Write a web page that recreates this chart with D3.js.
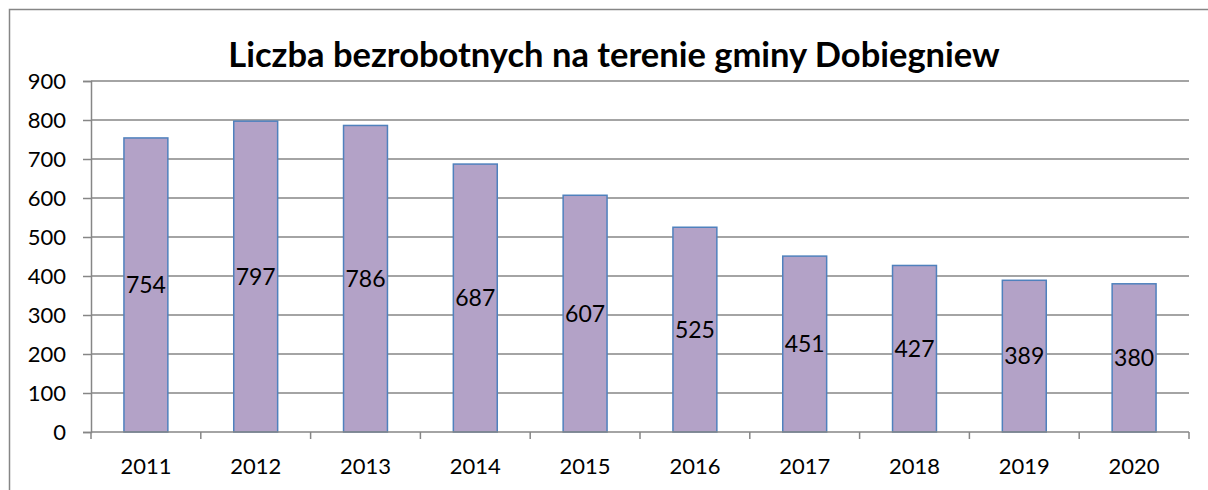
<!DOCTYPE html>
<html>
<head>
    <meta charset="utf-8">
    <title>Liczba bezrobotnych</title>
    <script src="https://cdn.jsdelivr.net/npm/d3@7"></script>
    <style>
        body { margin: 0; background: #fff; }
        text { font-family: Lato, "Open Sans", sans-serif; fill: #000; }
    </style>
</head>
<body>
    <script>
        // dane
        var years = ["2011", "2012", "2013", "2014", "2015", "2016", "2017", "2018", "2019", "2020"];
        var values = [754, 797, 786, 687, 607, 525, 451, 427, 389, 380];
        var yTicks = [0, 100, 200, 300, 400, 500, 600, 700, 800, 900];
        var title = "Liczba bezrobotnych na terenie gminy Dobiegniew";

        var width = 1208, height = 490;
        var margin = {left: 91, right: 19, top: 81, bottom: 58};

        var svg = d3.select("body")
            .append("svg")
            .attr("width", width)
            .attr("height", height);

        // ramka wykresu
        svg.append("path")
            .attr("d", "M9.5," + height + "V9.5H" + width)
            .attr("fill", "none")
            .attr("stroke", "#868686")
            .attr("stroke-width", 1.5);

        var x = d3.scaleBand()
            .domain(years)
            .range([margin.left, width - margin.right])
            .paddingInner(0.6)
            .paddingOuter(0.3);

        var y = d3.scaleLinear()
            .domain([0, 900])
            .range([height - margin.bottom, margin.top]);

        // linie siatki
        svg.append("g")
            .selectAll("line")
            .data(yTicks.slice(1))
            .enter()
            .append("line")
            .attr("x1", margin.left)
            .attr("x2", width - margin.right)
            .attr("y1", function(d){ return y(d); })
            .attr("y2", function(d){ return y(d); })
            .attr("stroke", "#868686")
            .attr("stroke-width", 1.5);

        // oś Y
        var yAxis = svg.append("g")
            .attr("transform", "translate(" + margin.left + ",0)")
            .call(d3.axisLeft(y).tickValues(yTicks).tickSize(8).tickPadding(17));
        yAxis.select(".domain").attr("stroke", "#868686").attr("stroke-width", 1.5);
        yAxis.selectAll(".tick line").attr("stroke", "#868686").attr("stroke-width", 1.5);
        yAxis.selectAll("text").style("font-size", "22px");

        // słupki
        svg.selectAll(".bar")
            .data(values)
            .enter()
            .append("rect")
            .attr("class", "bar")
            .attr("x", function(d, i){ return x(years[i]); })
            .attr("y", function(d){ return y(d); })
            .attr("width", x.bandwidth())
            .attr("height", function(d){ return y(0) - y(d); })
            .attr("fill", "#b3a2c7")
            .attr("stroke", "#4f81bd")
            .attr("stroke-width", 1.5);

        // oś X
        var xAxis = svg.append("g")
            .attr("transform", "translate(0," + y(0) + ")");
        xAxis.append("line")
            .attr("x1", margin.left)
            .attr("x2", width - margin.right)
            .attr("stroke", "#868686")
            .attr("stroke-width", 1.5);
        var edges = d3.range(years.length + 1).map(function(i){
            return margin.left + i * x.step();
        });
        xAxis.selectAll(".xtick")
            .data(edges)
            .enter()
            .append("line")
            .attr("class", "xtick")
            .attr("x1", function(d){ return d; })
            .attr("x2", function(d){ return d; })
            .attr("y1", 0)
            .attr("y2", 7)
            .attr("stroke", "#868686")
            .attr("stroke-width", 1.5);
        xAxis.selectAll(".xlabel")
            .data(years)
            .enter()
            .append("text")
            .attr("class", "xlabel")
            .attr("x", function(d){ return x(d) + x.bandwidth() / 2; })
            .attr("y", 42)
            .attr("text-anchor", "middle")
            .style("font-size", "22px")
            .text(function(d){ return d; });

        // etykiety danych
        svg.selectAll(".label")
            .data(values)
            .enter()
            .append("text")
            .attr("class", "label")
            .attr("x", function(d, i){ return x(years[i]) + x.bandwidth() / 2; })
            .attr("y", function(d){ return (y(d) + y(0)) / 2; })
            .attr("dy", "0.35em")
            .attr("text-anchor", "middle")
            .style("font-size", "23px")
            .text(function(d){ return d; });

        // tytuł
        svg.append("text")
            .attr("x", 614)
            .attr("y", 67)
            .attr("text-anchor", "middle")
            .style("font-size", "34.5px")
            .style("font-weight", "bold")
            .text(title);
    </script>
</body>
</html>
